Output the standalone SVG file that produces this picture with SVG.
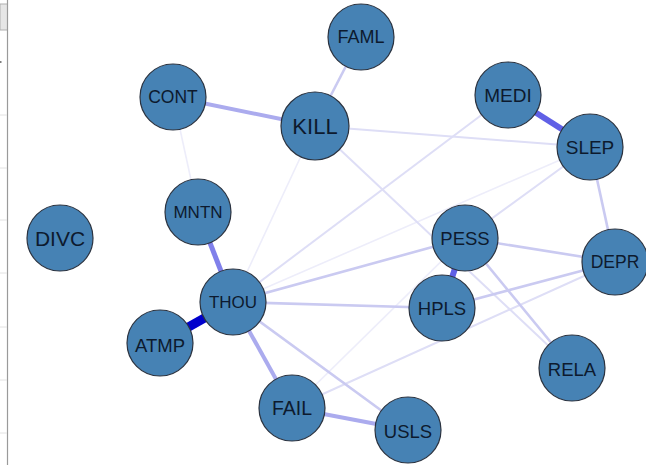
<svg xmlns="http://www.w3.org/2000/svg" width="646" height="465" viewBox="0 0 646 465">
<style>
.n circle{fill:#4682b4;stroke:#2b3340;stroke-width:1.2}
.n text{font-family:"Liberation Sans",Arial,sans-serif;fill:#0d1a2e;text-anchor:middle;dominant-baseline:central}
.c line{stroke-linecap:butt}
.e1{stroke:#ededfa;stroke-width:1.6}
.e2{stroke:#dedef6;stroke-width:2}
.e3{stroke:#cacaf1;stroke-width:2.6}
.e4{stroke:#ababee;stroke-width:4}
.e5{stroke:#8080ea;stroke-width:5}
.e6{stroke:#6060e6;stroke-width:6}
.e7{stroke:#0000cc;stroke-width:9}
</style>
<rect width="646" height="465" fill="#ffffff"/>
<g id="side-panel">
<rect x="0" y="4" width="7.5" height="26" fill="#e6e6e6" stroke="#b0b0b0" stroke-width="1"/>
<line x1="7.5" y1="0" x2="7.5" y2="465" stroke="#9a9a9a" stroke-width="1.2"/>
<g stroke="#e2e2e2" stroke-width="1">
<line x1="0" y1="115" x2="7" y2="115"/><line x1="0" y1="168" x2="7" y2="168"/>
<line x1="0" y1="220" x2="7" y2="220"/><line x1="0" y1="273" x2="7" y2="273"/>
<line x1="0" y1="327" x2="7" y2="327"/><line x1="0" y1="380" x2="7" y2="380"/>
<line x1="0" y1="433" x2="7" y2="433"/>
</g>
<line x1="0" y1="62" x2="1.5" y2="62" stroke="#555" stroke-width="1.5"/>
</g>
<g id="connectors" class="c">
<line class="e1" x1="173" y1="97" x2="198" y2="212"/>
<line class="e1" x1="315" y1="126" x2="233" y2="302"/>
<line class="e1" x1="233" y1="302" x2="590" y2="147"/>
<line class="e1" x1="292" y1="408" x2="465" y2="238"/>
<line class="e2" x1="315" y1="126" x2="572" y2="368"/>
<line class="e2" x1="233" y1="302" x2="508" y2="95"/>
<line class="e2" x1="315" y1="126" x2="590" y2="147"/>
<line class="e2" x1="590" y1="147" x2="465" y2="238"/>
<line class="e2" x1="292" y1="408" x2="615" y2="262"/>
<line class="e3" x1="361" y1="37" x2="315" y2="126"/>
<line class="e3" x1="590" y1="147" x2="615" y2="262"/>
<line class="e3" x1="465" y1="238" x2="615" y2="262"/>
<line class="e3" x1="442" y1="308" x2="615" y2="262"/>
<line class="e3" x1="233" y1="302" x2="465" y2="238"/>
<line class="e3" x1="233" y1="302" x2="442" y2="308"/>
<line class="e3" x1="233" y1="302" x2="408" y2="430"/>
<line class="e3" x1="465" y1="238" x2="572" y2="368"/>
<line class="e4" x1="173" y1="97" x2="315" y2="126"/>
<line class="e4" x1="292" y1="408" x2="408" y2="430"/>
<line class="e4" x1="233" y1="302" x2="292" y2="408"/>
<line class="e5" x1="198" y1="212" x2="233" y2="302"/>
<line class="e6" x1="508" y1="95" x2="590" y2="147"/>
<line class="e6" x1="465" y1="238" x2="442" y2="308"/>
<line class="e7" x1="233" y1="302" x2="160" y2="343"/>
</g>
<g id="FAML" class="n"><circle cx="361" cy="37" r="33"/><text x="361" y="37" font-size="18">FAML</text></g>
<g id="CONT" class="n"><circle cx="173" cy="97" r="33"/><text x="173" y="97" font-size="17.5">CONT</text></g>
<g id="KILL" class="n"><circle cx="315" cy="126" r="34"/><text x="315" y="126" font-size="22">KILL</text></g>
<g id="MEDI" class="n"><circle cx="508" cy="95" r="33"/><text x="508" y="95" font-size="19">MEDI</text></g>
<g id="SLEP" class="n"><circle cx="590" cy="147" r="33"/><text x="590" y="147" font-size="19">SLEP</text></g>
<g id="MNTN" class="n"><circle cx="198" cy="212" r="33"/><text x="198" y="212" font-size="17">MNTN</text></g>
<g id="DIVC" class="n"><circle cx="60" cy="238" r="33"/><text x="60" y="238" font-size="21">DIVC</text></g>
<g id="PESS" class="n"><circle cx="465" cy="238" r="33"/><text x="465" y="238" font-size="18.5">PESS</text></g>
<g id="DEPR" class="n"><circle cx="615" cy="262" r="33"/><text x="615" y="262" font-size="17.5">DEPR</text></g>
<g id="THOU" class="n"><circle cx="233" cy="302" r="33"/><text x="233" y="302" font-size="17">THOU</text></g>
<g id="HPLS" class="n"><circle cx="442" cy="308" r="33"/><text x="442" y="308" font-size="18.5">HPLS</text></g>
<g id="ATMP" class="n"><circle cx="160" cy="343" r="33"/><text x="160" y="345" font-size="18.5">ATMP</text></g>
<g id="RELA" class="n"><circle cx="572" cy="368" r="33"/><text x="572" y="369" font-size="18.5">RELA</text></g>
<g id="FAIL" class="n"><circle cx="292" cy="408" r="33"/><text x="292" y="408" font-size="19.5">FAIL</text></g>
<g id="USLS" class="n"><circle cx="408" cy="430" r="33"/><text x="408" y="431" font-size="18.5">USLS</text></g>
</svg>
